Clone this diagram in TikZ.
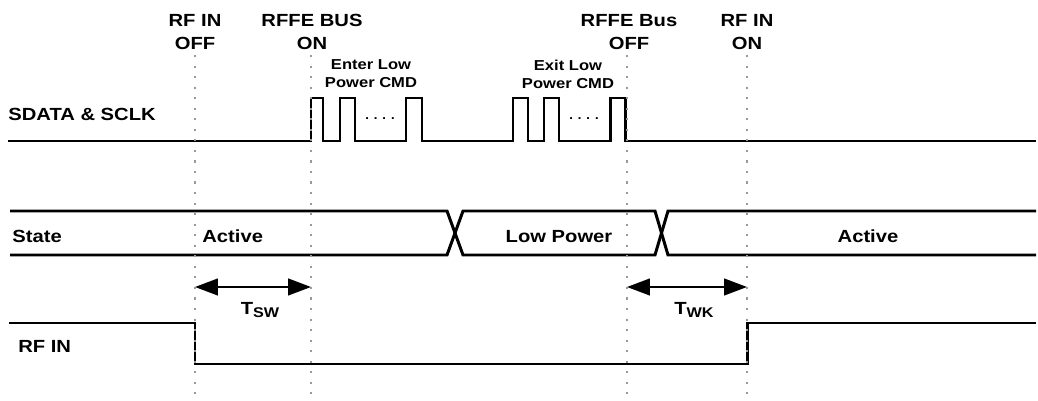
\documentclass[tikz,border=0pt]{standalone}
\usepackage{fontspec}
\setsansfont{Liberation Sans}[FakeStretch=1.15]
\usetikzlibrary{arrows.meta}
\tikzset{
  every node/.style={inner sep=0pt},
  sig/.style={line width=1.7pt, line join=miter},
  guide/.style={gray!80, line width=1.2pt, dash pattern=on 1.2pt off 4.8pt},
  tspan/.style={{Triangle[length=13pt,width=9.5pt]}-{Triangle[length=13pt,width=9.5pt]}, line width=1.1pt},
  lbl/.style={font=\sffamily\bfseries\fontsize{10}{13}\selectfont, align=center},
  cmd/.style={font=\sffamily\bfseries\fontsize{8.2}{10.2}\selectfont, align=center},
  gapdots/.style={font=\sffamily\fontsize{10}{12}\selectfont},
}

\begin{document}
\begin{tikzpicture}[x=0.02cm, y=-0.02cm]
  \useasboundingbox (0,0) rectangle (1038,401);
  % --- event labels on top ---
  \node[lbl] (rfOff) at (195,32) {RF IN\\OFF};
  \node[lbl] (busOn) at (312,32) {RFFE BUS\\ON};
  \node[lbl] (busOff) at (629,32) {RFFE Bus\\OFF};
  \node[lbl] (rfOn) at (747,32) {RF IN\\ON};
  \node[cmd] (enterCmd) at (371,74) {Enter Low\\Power CMD};
  \node[cmd] (exitCmd) at (568,74) {Exit Low\\Power CMD};

  % --- SDATA & SCLK ---
  \node[lbl, anchor=base west] (sdataLbl) at (8,121) {SDATA \& SCLK};
  \draw[sig] (8,141)
    foreach \a/\b in {311/323, 340/355, 406/422, 513/528, 544/559, 610/625} {
      -- (\a,141) -- (\a,98) -- (\b,98) -- (\b,141)
    } -- (1036,141);
  \node[gapdots, anchor=base] (dotsEnter) at (380,119.5) {.\,.\,.\,.};
  \node[gapdots, anchor=base] (dotsExit) at (584,119.5) {.\,.\,.\,.};

  % --- State bus ---
  \draw[sig] (10,211) -- (447,211) -- (463,255) -- (655,255) -- (668,211) -- (1036,211);
  \draw[sig] (10,255) -- (447,255) -- (463,211) -- (655,211) -- (668,255) -- (1036,255);
  \node[lbl, anchor=base west] (stateLbl) at (12,243) {State};
  \node[lbl, anchor=base west] (activeA) at (202,243) {Active};
  \node[lbl, anchor=base] (lowPower) at (559,243) {Low Power};
  \node[lbl, anchor=base] (activeB) at (868,243) {Active};

  % --- RF IN ---
  \node[lbl, anchor=base west] (rfLbl) at (18,353) {RF IN};
  \draw[sig] (9,323) -- (195,323) -- (195,364) -- (747,364) -- (747,323) -- (1036,323);

  % --- switch / wake times ---
  \coordinate (swL) at (195,287);
  \coordinate (swR) at (311,287);
  \coordinate (wkL) at (627,287);
  \coordinate (wkR) at (747,287);
  \draw[tspan] (swL) -- (swR);
  \draw[tspan] (wkL) -- (wkR);
  \node[lbl, anchor=base] (tsw) at (260,315) {T\raisebox{-1.7pt}{\fontsize{8}{8}\selectfont SW}};
  \node[lbl, anchor=base] (twk) at (694,315) {T\raisebox{-1.7pt}{\fontsize{8}{8}\selectfont WK}};

  % --- dotted guides ---
  \foreach \x in {195,311,627,747}
    \draw[guide] (\x,55) -- (\x,395);
\end{tikzpicture}
\end{document}
